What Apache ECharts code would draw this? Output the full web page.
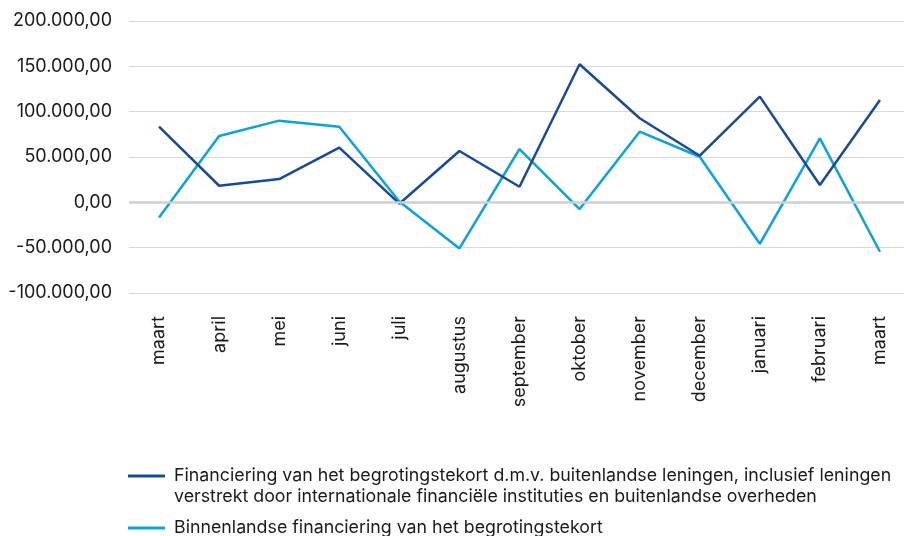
<!DOCTYPE html>
<html>
<head>
<meta charset="utf-8">
<script src="https://cdn.jsdelivr.net/npm/echarts@6/dist/echarts.min.js"></script>
<style>
  html, body { margin: 0; padding: 0; background: #fff; overflow: hidden; }
  #chart { width: 912px; height: 536px; }
</style>
</head>
<body>
<div id="chart"></div>
<script>
// maanden (maart t/m maart)
var months = ['maart', 'april', 'mei', 'juni', 'juli', 'augustus', 'september',
  'oktober', 'november', 'december', 'januari', 'februari', 'maart'];

var seriesNames = [
  'Financiering van het begrotingstekort d.m.v. buitenlandse leningen, inclusief leningen verstrekt door internationale financiële instituties en buitenlandse overheden',
  'Binnenlandse financiering van het begrotingstekort'
];

var buitenlands = [83400, 18300, 25700, 60300, -1500, 56600, 17200, 152300, 92700, 51400, 116600, 19100, 112900];
var binnenlands = [-16600, 73200, 90100, 83400, 1000, -50800, 58800, -7400, 77900, 50300, -45700, 70600, -54500];

var yTicks = [-100000, -50000, 0, 50000, 100000, 150000, 200000];

function nlFormat(v) {
  var neg = v < 0;
  var s = Math.abs(Math.round(v)).toString();
  s = s.replace(/\B(?=(\d{3})+(?!\d))/g, '.');
  return (neg ? '-' : '') + s + ',00';
}

var chart = echarts.init(document.getElementById('chart'), null, { renderer: 'canvas' });

var font = 'Inter';
var legendText = {
  color: '#1a1a1a',
  fontFamily: font,
  fontSize: 17.8,
  lineHeight: 21,
  padding: [0, 0, 0, 4]
};
// lijn-icoon bovenaan zodat het bij de eerste tekstregel staat
var topLineIcon = 'path://M0,0L37,0L37,3L0,3Z M0,23.95L0.05,23.95L0.05,24L0,24Z';

var option = {
  backgroundColor: '#ffffff',
  animation: false,
  grid: {
    left: 129,
    top: 21,
    width: 781,
    height: 272,
    containLabel: false
  },
  xAxis: {
    type: 'category',
    data: months,
    boundaryGap: true,
    axisLine: { show: false },
    axisTick: { show: false },
    axisLabel: {
      rotate: 90,
      margin: 23,
      interval: 0,
      color: '#1a1a1a',
      fontFamily: font,
      fontSize: 18
    }
  },
  yAxis: {
    type: 'value',
    min: yTicks[0],
    max: yTicks[yTicks.length - 1],
    interval: 50000,
    axisLine: { show: false },
    axisTick: { show: false },
    splitLine: { lineStyle: { color: '#d9d9d9', width: 1 } },
    axisLabel: {
      margin: 17,
      color: '#1a1a1a',
      fontFamily: font,
      fontSize: 18,
      formatter: nlFormat
    }
  },
  legend: [
    {
      left: 128,
      top: 465.5,
      padding: 0,
      itemWidth: 37,
      itemHeight: 24,
      icon: topLineIcon,
      textStyle: legendText,
      formatter: function () {
        return 'Financiering van het begrotingstekort d.m.v. buitenlandse leningen, inclusief leningen\nverstrekt door internationale financiële instituties en buitenlandse overheden';
      },
      data: [seriesNames[0]]
    },
    {
      left: 128,
      top: 517.5,
      padding: 0,
      itemWidth: 37,
      itemHeight: 3,
      icon: 'rect',
      textStyle: legendText,
      data: [seriesNames[1]]
    }
  ],
  series: [
    {
      name: seriesNames[0],
      type: 'line',
      data: buitenlands,
      symbol: 'none',
      color: '#174a97',
      lineStyle: { color: '#174a97', width: 2.5 },
      z: 3,
      markLine: {
        silent: true,
        symbol: 'none',
        label: { show: false },
        lineStyle: { color: '#cfcfcf', width: 2.5, type: 'solid' },
        data: [{ yAxis: 0 }]
      }
    },
    {
      name: seriesNames[1],
      type: 'line',
      data: binnenlands,
      symbol: 'none',
      color: '#0aa2e0',
      lineStyle: { color: '#0aa2e0', width: 2.5 },
      z: 2
    }
  ]
};

chart.setOption(option);
</script>
</body>
</html>
